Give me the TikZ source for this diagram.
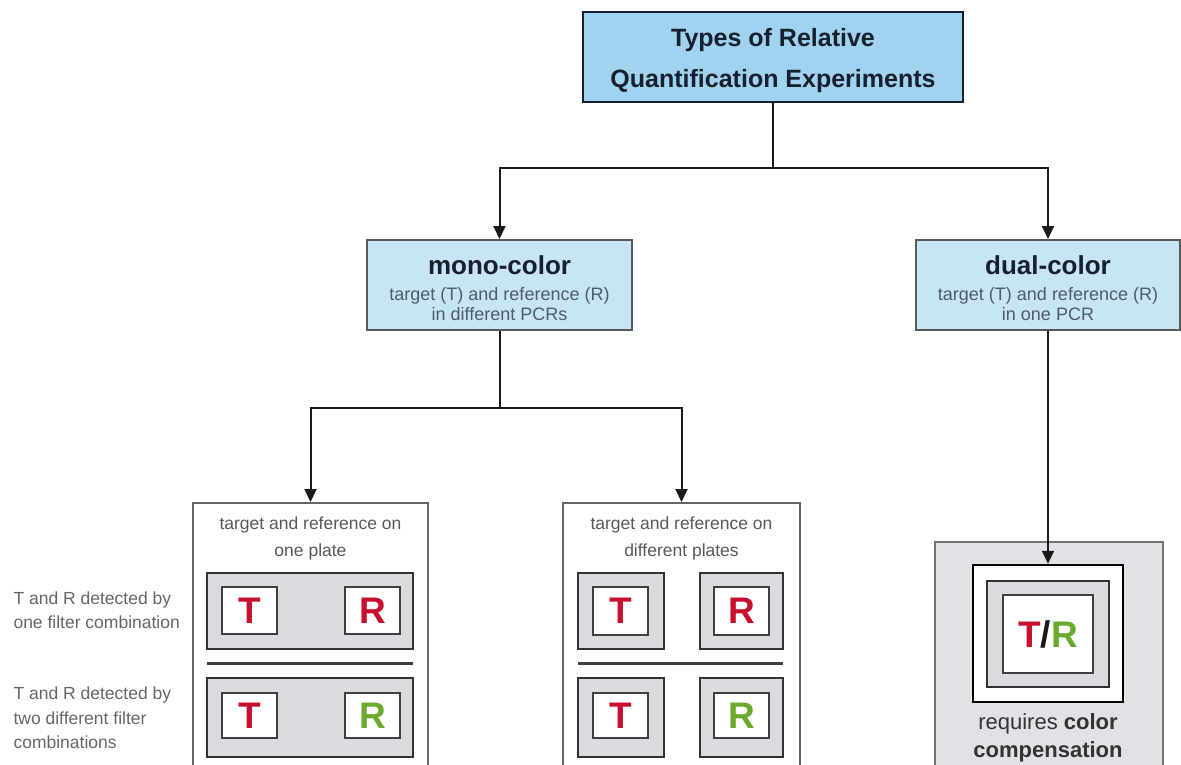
\documentclass[tikz,border=0pt]{standalone}
\usepackage{fontspec}
\setmainfont{Liberation Sans}
\usetikzlibrary{arrows.meta,fit}
\definecolor{topfill}{HTML}{A0D3EF}
\definecolor{subfill}{HTML}{C8E5F5}
\definecolor{navy}{HTML}{16202E}
\definecolor{subtxt}{HTML}{4E5C6A}
\definecolor{grayfill}{HTML}{DADBDF}
\definecolor{panelfill}{HTML}{E1E2E6}
\definecolor{tred}{HTML}{C8102E}
\definecolor{rgreen}{HTML}{6AAA2E}
\definecolor{lbl}{HTML}{666666}
\definecolor{linecol}{HTML}{1A1A1A}
\begin{document}
\begin{tikzpicture}[x=1pt,y=-1pt,
  conn/.style={draw=linecol, line width=2pt},
  arr/.style={conn, -{Triangle[width=12pt,length=13pt]}},
  topbox/.style={draw=navy, line width=2.5pt, fill=topfill, inner sep=0pt},
  subbox/.style={draw=black!65, line width=2pt, fill=subfill, inner sep=0pt},
  panel/.style={draw=black!60, line width=2pt, fill=white, inner sep=0pt},
  rpanel/.style={draw=black!55, line width=2pt, fill=panelfill, inner sep=0pt},
  graybox/.style={draw=black!80, line width=2pt, fill=grayfill, inner sep=0pt},
  whitebox/.style={draw=black!75, line width=2pt, fill=white, inner sep=0pt},
  blackbox/.style={draw=black, line width=2.5pt, fill=white, inner sep=0pt},
  sep/.style={draw=black!75, line width=3pt},
  titletxt/.style={font=\fontsize{25}{41}\selectfont\bfseries, text=navy, align=center},
  headtxt/.style={font=\fontsize{26}{30}\selectfont\bfseries, text=navy},
  subtext/.style={font=\fontsize{18}{20.5}\selectfont, text=subtxt, align=center},
  paneltxt/.style={font=\fontsize{17.5}{27}\selectfont, text=black!65, align=center},
  sidetxt/.style={font=\fontsize{17.5}{24.5}\selectfont, text=lbl, align=left, anchor=west},
  letter/.style={font=\fontsize{37}{40}\selectfont\bfseries},
  comptxt/.style={font=\fontsize{22}{28}\selectfont, text=black!80, align=center}
]
\useasboundingbox (0,0) rectangle (1181,765);
\clip (0,0) rectangle (1181,765);

% top level
\node[topbox, fit={(583,12) (963,102)}] (top) {};
\node[titletxt] (toptxt) at (773,61) {Types of Relative\\Quantification Experiments};

% second level
\node[subbox, fit={(367,240) (632,330)}] (mono) {};
\node[headtxt] (monoh) at (499.5,265) {mono-color};
\node[subtext] (monos) at (499.5,304) {target (T) and reference (R)\\in different PCRs};

\node[subbox, fit={(916,240) (1180,330)}] (dual) {};
\node[headtxt] (dualh) at (1048,265) {dual-color};
\node[subtext] (duals) at (1048,304) {target (T) and reference (R)\\in one PCR};

% connectors from top
\coordinate (j1) at (775,168);
\draw[conn] (top.south) -- (top.south |- j1);
\draw[arr] (top.south |- j1) -| (mono.north);
\draw[arr] (top.south |- j1) -| (dual.north);

% left panel
\node[panel, fit={(193,503) (428,790)}] (left) {};
\node[paneltxt] (lefttxt) at (310.5,538) {target and reference on\\one plate};
\node[graybox, fit={(207,573) (413,649)}] (lg1) {};
\node[whitebox, fit={(222,587) (277,634)}] (lt1) {};
\node[whitebox, fit={(345,587) (400,634)}] (lr1) {};
\node[letter, text=tred] (lt1l) at (lt1.center) {T};
\node[letter, text=tred] (lr1l) at (lr1.center) {R};
\coordinate (ls1) at (207,663);
\coordinate (ls2) at (413,663);
\draw[sep] (ls1) -- (ls2);
\node[graybox, fit={(207,678) (413,757)}] (lg2) {};
\node[whitebox, fit={(222,693) (277,738)}] (lt2) {};
\node[whitebox, fit={(345,693) (400,738)}] (lr2) {};
\node[letter, text=tred] (lt2l) at (lt2.center) {T};
\node[letter, text=rgreen] (lr2l) at (lr2.center) {R};

% middle panel
\node[panel, fit={(563,503) (800,790)}] (mid) {};
\node[paneltxt] (midtxt) at (681.5,538) {target and reference on\\different plates};
\node[graybox, fit={(578,573) (664,649)}] (mg1) {};
\node[graybox, fit={(700,573) (783,649)}] (mh1) {};
\node[whitebox, fit={(593,587) (648,635)}] (mt1) {};
\node[whitebox, fit={(714,587) (769,635)}] (mr1) {};
\node[letter, text=tred] (mt1l) at (mt1.center) {T};
\node[letter, text=tred] (mr1l) at (mr1.center) {R};
\coordinate (ms1) at (578,663);
\coordinate (ms2) at (783,663);
\draw[sep] (ms1) -- (ms2);
\node[graybox, fit={(578,678) (664,757)}] (mg2) {};
\node[graybox, fit={(700,678) (783,757)}] (mh2) {};
\node[whitebox, fit={(593,693) (648,738)}] (mt2) {};
\node[whitebox, fit={(714,693) (769,738)}] (mr2) {};
\node[letter, text=tred] (mt2l) at (mt2.center) {T};
\node[letter, text=rgreen] (mr2l) at (mr2.center) {R};

% connectors from mono
\coordinate (j2) at (500,408);
\draw[conn] (mono.south) -- (mono.south |- j2);
\draw[arr] (mono.south |- j2) -| (left.north);
\draw[arr] (mono.south |- j2) -| (mid.north);

% side labels
\node[sidetxt] (side1) at (10,610) {T and R detected by\\one filter combination};
\node[sidetxt] (side2) at (10,718) {T and R detected by\\two different filter\\combinations};

% right panel
\node[rpanel, fit={(935,542) (1163,790)}] (right) {};
\node[blackbox, fit={(973,565) (1123,702)}] (rw) {};
\node[graybox, fit={(987,581) (1109,687)}] (rg) {};
\node[whitebox, fit={(1003,595) (1093,673)}] (ri) {};
\node[letter] (trl) at (ri.center) {\textcolor{tred}{T}\textcolor{linecol}{/}\textcolor{rgreen}{R}};
\node[comptxt] (comp) at (1048,738) {requires \textbf{color}\\\textbf{compensation}};

\draw[arr] (dual.south) -- (rw.north);
\end{tikzpicture}
\end{document}
